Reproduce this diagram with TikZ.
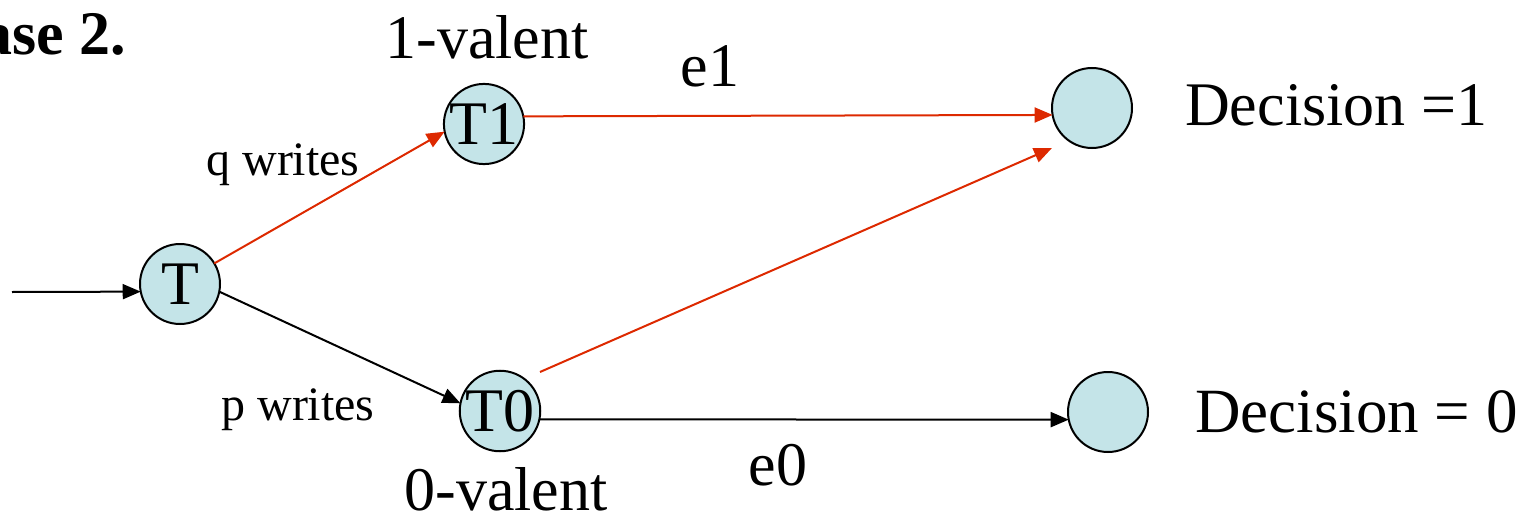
\documentclass[tikz,border=0pt]{standalone}
\usepackage{fontspec}
\setmainfont{Liberation Serif}
\usetikzlibrary{arrows.meta}
\definecolor{nodefill}{RGB}{196,228,232}
\definecolor{edgered}{RGB}{221,41,0}
\begin{document}
\begin{tikzpicture}[x=1pt,y=-1pt,
  state/.style={circle,draw=black,line width=2pt,fill=nodefill,minimum size=80pt,inner sep=0pt,outer sep=0pt,font=\fontsize{62}{62}\selectfont},
  big/.style={font=\fontsize{62}{62}\selectfont,inner sep=0pt,anchor=base},
  small/.style={font=\fontsize{48}{48}\selectfont,inner sep=0pt,anchor=base},
  edge/.style={line width=2pt,-{Triangle[length=18pt,width=15pt]}},
  rededge/.style={edge,draw=edgered,-{Triangle[length=18pt,width=15pt,fill=edgered]}}]
\useasboundingbox (0,0) rectangle (1535,514);
\node[state] (T) at (180,284) {T};
\node[state] (T1) at (484,124) {T1};
\node[state] (T0) at (500,411) {T0};
\node[state] (D1) at (1092,108) {};
\node[state] (D0) at (1108,412) {};
\coordinate (in) at (12,292);
\coordinate (r0) at (540,372);
\coordinate (r1) at (1052,148);
\draw[edge] (in) -- (T.191);
\draw[rededge] (T.31) -- (T1.191);
\draw[edge] (T.-11) -- (T0.169);
\draw[rededge] (T1.11) -- (D1.190);
\draw[rededge] (r0) -- (r1);
\draw[edge] (T0.-12) -- (D0.191);
\node[big,anchor=base east,font=\fontsize{62}{62}\selectfont\bfseries] (case) at (126,54) {Case 2.};
\node[big] (v1) at (487,58) {1-valent};
\node[big] (e1) at (710,86) {e1};
\node[small] (qw) at (283,175) {q writes};
\node[small] (pw) at (298,420) {p writes};
\node[big,anchor=base west] (d1) at (1185,125) {Decision =1};
\node[big,anchor=base west,font=\fontsize{63}{63}\selectfont] (d0) at (1195,432) {Decision = 0};
\node[big] (v0) at (506,510) {0-valent};
\node[big] (e0) at (778,485) {e0};
\end{tikzpicture}
\end{document}
